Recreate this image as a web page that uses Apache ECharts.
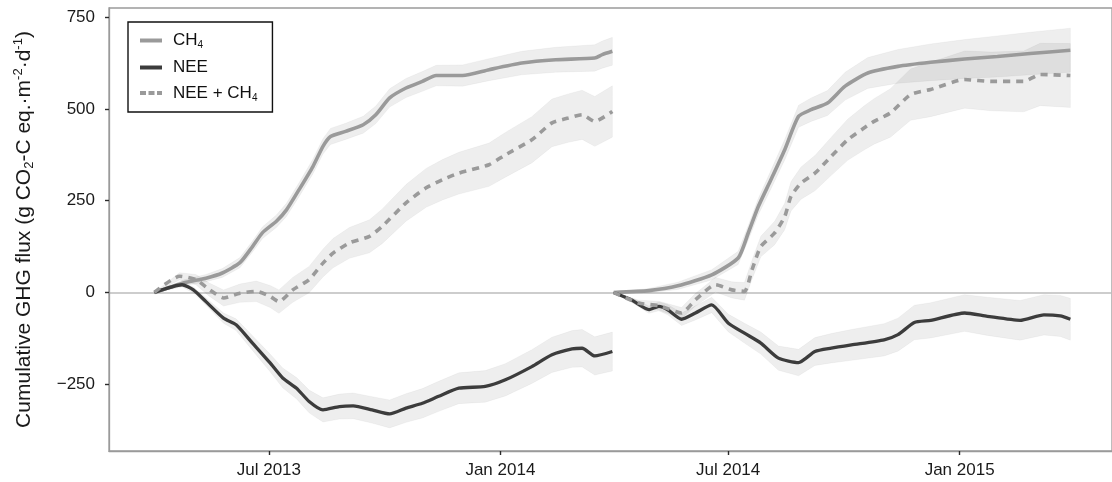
<!DOCTYPE html>
<html><head><meta charset="utf-8">
<script src="https://cdn.jsdelivr.net/npm/echarts@6/dist/echarts.min.js"></script>
<style>html,body{margin:0;padding:0;background:#fff}#c{width:1112px;height:482px}</style>
</head><body><div id="c"></div>
<script>
// x values: days since 2013-04-01
const ch4Days1 = [0,23,41,54,68,78,86,97,105,115,126,134,140,152,166,176,187,200,213,224,245,266,292,319,350,356,364];
const ch4Vals1 = [0,26,39,53,81,125,163,194,225,280,343,398,425,439,457,484,530,557,575,591,591,607,625,634,639,648,657];
const ch4Err1  = [0,8,10,12,14,15,16,17,18,19,20,21,22,22,23,24,25,26,27,28,29,30,32,34,36,37,38];

const neeDays1 = [0,22,31,41,55,65,78,92,102,113,123,134,147,158,173,187,200,213,226,242,263,279,300,316,332,340,350,364];
const neeVals1 = [0,21,7,-25,-70,-88,-138,-192,-233,-261,-297,-320,-311,-309,-320,-331,-315,-302,-283,-261,-256,-238,-202,-170,-154,-152,-173,-161];
const neeErr1  = [0,6,8,10,14,16,20,24,27,29,31,33,34,35,36,38,39,40,41,42,43,44,46,48,50,51,52,53];

const sumDays1 = [0,20,33,44,55,68,81,92,99,110,123,134,142,155,171,181,200,216,229,242,266,279,300,316,329,340,350,364];
const sumVals1 = [0,44,35,7,-15,-2,3,-11,-25,7,35,80,107,135,153,180,244,285,307,325,348,375,416,462,475,484,466,493];
const sumErr1  = [0,10,14,18,22,25,28,30,32,34,36,38,40,42,45,47,50,53,55,57,59,61,63,65,66,67,68,70];

const ch4Days2 = [365,393,416,443,464,472,480,490,501,512,522,535,549,567,591,617,644,670,696,728];
const ch4Vals2 = [0,5,18,48,94,162,234,307,389,480,498,516,562,598,616,627,636,643,651,660];
const ch4Err2  = [0,6,10,14,18,20,22,25,28,30,32,34,38,42,46,50,53,56,58,60];

const neeDays2 = [365,379,393,401,408,419,430,443,456,469,482,496,512,525,538,554,580,591,604,617,644,662,688,707,720,728];
const neeVals2 = [0,-20,-47,-38,-47,-73,-56,-34,-83,-111,-138,-179,-191,-161,-152,-143,-129,-115,-82,-76,-56,-65,-76,-61,-64,-73];
const neeErr2  = [0,6,10,12,14,17,19,21,24,27,30,33,36,38,40,42,44,45,47,48,50,52,54,55,56,57];

const sumDays2 = [365,385,401,419,430,446,459,469,475,482,493,501,506,514,525,538,551,564,572,585,601,617,644,665,691,704,728];
const sumVals2 = [0,-29,-36,-56,-20,21,7,3,62,125,162,207,262,298,325,371,416,448,466,489,539,553,580,575,575,594,591];
const sumErr2  = [0,8,12,15,17,20,22,24,26,28,32,36,40,44,48,52,56,60,62,66,70,74,78,80,83,85,87];

const yTicks = [-250, 0, 250, 500, 750];
const xTickDays = [91, 275, 456, 640];
const xTickLabels = ['Jul 2013', 'Jan 2014', 'Jul 2014', 'Jan 2015'];
const seriesNames = ['CH4', 'NEE', 'NEE + CH4'];

const FONT = 'Liberation Sans, Arial, Helvetica, sans-serif';
const pairs = (d, v) => d.map((x, i) => [x, v[i]]);

function band(days, vals, errs) {
  const upper = days.map((x, i) => [x, vals[i] + errs[i]]);
  const lower = days.map((x, i) => [x, vals[i] - errs[i]]).reverse();
  return {
    type: 'custom', silent: true, z: 1, data: pairs(days, vals),
    renderItem: (params, api) => {
      if (params.dataIndex !== 0) return null;
      const pts = upper.concat(lower).map(p => api.coord(p));
      return {type: 'polygon', shape: {points: pts},
              style: {fill: 'rgba(0,0,0,0.065)', stroke: 'rgba(0,0,0,0.035)', lineWidth: 1}};
    }
  };
}

const styles = {
  'CH4': {color: '#9a9a9a', width: 3.6, type: 'solid'},
  'NEE': {color: '#3c3c3c', width: 3.3, type: 'solid'},
  'NEE + CH4': {color: '#9a9a9a', width: 3.6, type: [7, 6]}
};
function line(name, days, vals) {
  const s = styles[name];
  return {type: 'line', name: name, data: pairs(days, vals), symbol: 'none', z: 3, smooth: 0.2,
          lineStyle: {color: s.color, width: s.width, type: s.type},
          itemStyle: {color: s.color}};
}

const series = [
  band(ch4Days1, ch4Vals1, ch4Err1), band(neeDays1, neeVals1, neeErr1), band(sumDays1, sumVals1, sumErr1),
  band(ch4Days2, ch4Vals2, ch4Err2), band(neeDays2, neeVals2, neeErr2), band(sumDays2, sumVals2, sumErr2),
  line('CH4', ch4Days1, ch4Vals1), line('NEE', neeDays1, neeVals1), line('NEE + CH4', sumDays1, sumVals1),
  line('CH4', ch4Days2, ch4Vals2), line('NEE', neeDays2, neeVals2), line('NEE + CH4', sumDays2, sumVals2)
];
series[6].markLine = {silent: true, symbol: 'none', label: {show: false}, z: 0,
  lineStyle: {color: '#bdbdbd', width: 1.6, type: 'solid'}, data: [{yAxis: 0}]};

const dashIcon = 'path://M0,0h6v4h-6z M8.5,0h6v4h-6z M17,0h5v4h-5z';
const chart = echarts.init(document.getElementById('c'), null, {renderer: 'canvas'});
chart.setOption({
  animation: false,
  backgroundColor: '#fff',
  textStyle: {fontFamily: FONT},
  grid: {left: 109, top: 8, bottom: 31, right: -3, show: true, borderColor: '#9a9a9a', borderWidth: 1.3},
  legend: {
    data: [{name: 'CH4', icon: 'rect'}, {name: 'NEE', icon: 'rect'}, {name: 'NEE + CH4', icon: dashIcon}],
    orient: 'vertical', left: 128, top: 22,
    padding: [10, 15, 9, 12], itemGap: 8.5, itemWidth: 22, itemHeight: 4,
    borderColor: '#111', borderWidth: 1.4, borderRadius: 0, backgroundColor: '#fff',
    selectedMode: false,
    formatter: n => n === 'CH4' ? '{t|CH}{s|4}' : (n === 'NEE + CH4' ? '{t|NEE + CH}{s|4}' : '{t|NEE}'),
    textStyle: {fontFamily: FONT, color: '#111', rich: {
      t: {fontSize: 17, lineHeight: 20, fontFamily: FONT, color: '#111', padding: [0, 0, 0, 6]},
      s: {fontSize: 10, lineHeight: 9, verticalAlign: 'bottom', fontFamily: FONT, color: '#111'}
    }}
  },
  xAxis: {
    type: 'value', min: -36.05, max: 761.1,
    axisLine: {show: true, onZero: false, lineStyle: {color: '#9a9a9a', width: 1.3}}, splitLine: {show: false},
    axisTick: {show: true, length: 4, customValues: xTickDays, lineStyle: {color: '#2a2a2a', width: 1.4}},
    axisLabel: {customValues: xTickDays, formatter: v => xTickLabels[xTickDays.indexOf(v)],
      fontSize: 17, color: '#1a1a1a', margin: 11, fontFamily: FONT}
  },
  yAxis: {
    type: 'value', min: -432, max: 775,
    axisLine: {show: true, onZero: false, lineStyle: {color: '#9a9a9a', width: 1.3}}, splitLine: {show: false},
    axisTick: {show: true, length: 4, customValues: yTicks, lineStyle: {color: '#2a2a2a', width: 1.4}},
    axisLabel: {customValues: yTicks, formatter: v => v < 0 ? '\u2212' + Math.abs(v) : String(v),
      fontSize: 17, color: '#1a1a1a', margin: 14, fontFamily: FONT},
    name: '{t|Cumulative GHG flux (g CO}{sub|2}{t|-C eq.\u00b7m}{sup|-2}{t|\u00b7d}{sup|-1}{t|)}',
    nameLocation: 'middle', nameGap: 73,
    nameTextStyle: {fontFamily: FONT, rich: {
      t: {fontSize: 21, lineHeight: 24, fontFamily: FONT, color: '#1a1a1a'},
      sub: {fontSize: 13, lineHeight: 10, verticalAlign: 'bottom', fontFamily: FONT, color: '#1a1a1a'},
      sup: {fontSize: 13, lineHeight: 10, verticalAlign: 'top', fontFamily: FONT, color: '#1a1a1a'}
    }}
  },
  series: series
});
</script></body></html>
